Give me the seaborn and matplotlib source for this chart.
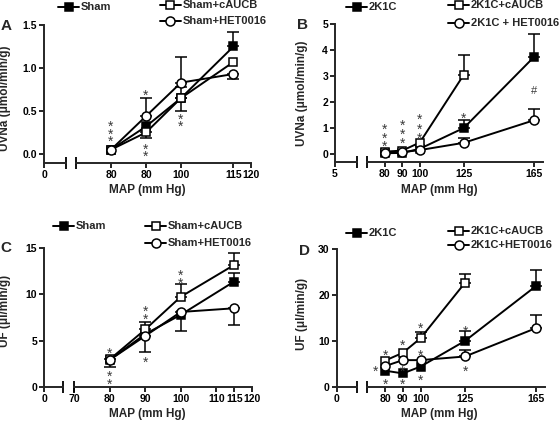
import matplotlib
matplotlib.use("Agg")
import matplotlib.pyplot as plt
import matplotlib.transforms as mtransforms
from matplotlib.lines import Line2D
import numpy as np
import seaborn as sns

# ---- panel A: UVNa, sham groups ----
a_map = [80, 90, 100, 115]
a_sham = [0.05, 0.32, 0.65, 1.25]
a_sham_up = [0, 0, 0.13, 0.17]
a_sham_dn = [0, 0, 0, 0]
a_cauc = [0.05, 0.25, 0.65, 1.07]
a_cauc_up = [0, 0, 0, 0]
a_cauc_dn = [0, 0.07, 0.15, 0]
a_het = [0.05, 0.44, 0.83, 0.93]
a_het_up = [0, 0.21, 0.30, 0]
a_het_dn = [0, 0, 0, 0.06]
a_xticks = [80, 90, 100, 115, 120]
a_xlabels = ["80", "80", "100", "115", "120"]
a_yticks = [0, 0.5, 1.0, 1.5]
a_ylabels = ["0.0", "0.5", "1.0", "1.5"]
a_names = ["Sham", "Sham+cAUCB", "Sham+HET0016"]

# ---- panel B: UVNa, 2K1C groups ----
b_map = [80, 90, 100, 125, 165]
b_map_cauc = [80, 90, 100, 125]
b_2k1c = [0.03, 0.04, 0.2, 1.0, 3.74]
b_2k1c_up = [0, 0, 0, 0.3, 0.88]
b_2k1c_dn = [0, 0, 0, 0, 0]
b_cauc = [0.09, 0.13, 0.44, 3.05]
b_cauc_up = [0, 0, 0, 0.75]
b_cauc_dn = [0, 0, 0, 0]
b_het = [0.05, 0.07, 0.15, 0.43, 1.3]
b_het_up = [0, 0, 0, 0.17, 0.42]
b_het_dn = [0, 0, 0, 0, 0]
b_xticks = [80, 90, 100, 125, 165]
b_xlabels = ["80", "90", "100", "125", "165"]
b_yticks = [0, 1, 2, 3, 4, 5]
b_ylabels = ["0", "1", "2", "3", "4", "5"]
b_names = ["2K1C", "2K1C+cAUCB", "2K1C + HET0016"]

# ---- panel C: UF, sham groups ----
c_map = [80, 90, 100, 115]
c_sham = [2.9, 5.7, 7.8, 11.4]
c_sham_up = [0, 0, 0, 0.9]
c_sham_dn = [0, 0, 0, 0]
c_cauc = [2.95, 6.2, 9.75, 13.2]
c_cauc_up = [0, 0.85, 1.35, 1.3]
c_cauc_dn = [0.8, 0, 0, 0]
c_het = [2.9, 5.5, 8.1, 8.5]
c_het_up = [0, 0, 0, 0]
c_het_dn = [0, 1.7, 2.1, 1.8]
c_xticks = [70, 80, 90, 100, 110, 115, 120]
c_xlabels = ["70", "80", "90", "100", "110", "115", "120"]
c_yticks = [0, 5, 10, 15]
c_ylabels = ["0", "5", "10", "15"]
c_names = ["Sham", "Sham+cAUCB", "Sham+HET0016"]

# ---- panel D: UF, 2K1C groups ----
d_map = [80, 90, 100, 125, 165]
d_map_cauc = [80, 90, 100, 125]
d_2k1c = [3.5, 2.9, 4.4, 10.0, 22.0]
d_2k1c_up = [0, 0, 0, 2.2, 3.5]
d_2k1c_dn = [0, 0, 0, 0, 0]
d_cauc = [5.7, 7.4, 10.6, 22.7]
d_cauc_up = [0, 0, 1.4, 1.8]
d_cauc_dn = [0, 0, 0, 0]
d_het = [4.5, 5.8, 5.8, 6.6, 12.8]
d_het_up = [0, 0, 0, 1.4, 2.9]
d_het_dn = [0, 0, 0, 0, 0]
d_xticks = [80, 90, 100, 125, 165]
d_xlabels = ["80", "90", "100", "125", "165"]
d_yticks = [0, 10, 20, 30]
d_ylabels = ["0", "10", "20", "30"]
d_names = ["2K1C", "2K1C+cAUCB", "2K1C+HET0016"]

sns.set_style("ticks")
plt.rcParams["font.family"] = ["Liberation Sans", "DejaVu Sans"]
plt.rcParams["font.weight"] = "bold"

W, H = 560, 421
fig = plt.figure(figsize=(W / 100, H / 100), dpi=100)

STYLES = [
    dict(marker="s", markerfacecolor="black", markersize=6),
    dict(marker="s", markerfacecolor="white", markersize=6),
    dict(marker="o", markerfacecolor="white", markersize=6.5),
]
LW = 1.4


def rect(x0, x1, y0, y1):
    return [x0 / W, 1 - y1 / H, (x1 - x0) / W, (y1 - y0) / H]


def fx(x):
    return x / W


def fy(y):
    return 1 - y / H


def draw_series(ax, x, y, up, dn, style, z):
    sns.lineplot(x=x, y=y, ax=ax, color="black", linewidth=LW, errorbar=None,
                 markeredgecolor="black", markeredgewidth=1.1, zorder=z,
                 clip_on=False, **style)
    x = np.asarray(x)
    y = np.asarray(y)
    up = np.asarray(up)
    dn = np.asarray(dn)
    for err, sign in ((up, 1), (dn, -1)):
        m = err > 0
        if m.any():
            yerr = [np.zeros(m.sum()), err[m]] if sign > 0 else [err[m], np.zeros(m.sum())]
            ax.errorbar(x[m], y[m], yerr=yerr, fmt="none", ecolor="black",
                        elinewidth=1.1, capsize=4, capthick=1.1, zorder=1.5,
                        clip_on=False)


def star(ax, x, y, s="*"):
    tr = mtransforms.offset_copy(ax.transData, fig=fig, y=-2.5, units="points")
    ax.text(x, y, s, ha="center", va="center", fontsize=10, color="#3a3a3a",
            fontweight="normal", transform=tr, clip_on=False)


def panel(px, ylim, yticks, ylabels, xlim, xticks, xlabels, zero_label, series):
    left, brk, r0, r1, top, bot = px
    axl = fig.add_axes(rect(left, brk, top, bot))
    axr = fig.add_axes(rect(r0, r1, top, bot), sharey=axl)
    for ax in (axl, axr):
        sns.despine(ax=ax)
        ax.spines["left"].set_linewidth(LW)
        ax.spines["bottom"].set_linewidth(LW)
        ax.tick_params(width=1.2, length=3.5, labelsize=7.5, pad=1.5, colors="black")
        ax.patch.set_alpha(0)
    axl.set_ylim(*ylim)
    axl.set_yticks(yticks)
    axl.set_yticklabels(ylabels)
    axl.set_xlim(0, 1)
    axl.set_xticks([0])
    axl.set_xticklabels([zero_label])
    axr.spines["left"].set_visible(False)
    axr.tick_params(axis="y", left=False, labelleft=False)
    axr.set_xlim(*xlim)
    axr.set_xticks(xticks)
    axr.set_xticklabels(xlabels)
    # break marks on the x axis
    axl.plot([1], [0], transform=axl.transAxes, marker="|", markersize=8,
             markeredgewidth=1.3, color="black", clip_on=False)
    axr.plot([0], [0], transform=axr.transAxes, marker="|", markersize=8,
             markeredgewidth=1.3, color="black", clip_on=False)
    for i, (x, y, up, dn) in enumerate(series):
        draw_series(axr, x, y, up, dn, STYLES[i], 3 + i)
    for ax in (axl, axr):
        ax.set_xlabel("")
        ax.set_ylabel("")
    return axr


def legend_entry(x0, y, style, label):
    ln = Line2D([fx(x0), fx(x0 + 10.5), fx(x0 + 21)], [fy(y)] * 3,
                transform=fig.transFigure, color="black", linewidth=LW,
                markeredgecolor="black", markeredgewidth=1.1, markevery=[1],
                **style)
    fig.add_artist(ln)
    fig.text(fx(x0 + 23), fy(y), label, ha="left", va="center", fontsize=8)


# ---------- A ----------
axA = panel((44, 66, 76, 251, 25, 163), (-0.105, 1.5), a_yticks, a_ylabels,
            (70, 120), a_xticks, a_xlabels, "0",
            [(a_map, a_sham, a_sham_up, a_sham_dn),
             (a_map, a_cauc, a_cauc_up, a_cauc_dn),
             (a_map, a_het, a_het_up, a_het_dn)])
for yy in (0.357, 0.267, 0.183):
    star(axA, 80, yy)
for yy in (0.713, 0.093, 0.008):
    star(axA, 90, yy)
for yy in (0.434, 0.357):
    star(axA, 100, yy)

# ---------- B ----------
axB = panel((335, 357, 367, 543, 24, 162.3), (-0.32, 5), b_yticks, b_ylabels,
            (70, 170), b_xticks, b_xlabels, "5",
            [(b_map, b_2k1c, b_2k1c_up, b_2k1c_dn),
             (b_map_cauc, b_cauc, b_cauc_up, b_cauc_dn),
             (b_map, b_het, b_het_up, b_het_dn)])
for yy in (1.05, 0.73, 0.41):
    star(axB, 80, yy)
for yy in (1.20, 0.86, 0.54):
    star(axB, 90, yy)
for yy in (1.43, 1.05, 0.73):
    star(axB, 100, yy)
star(axB, 125, 1.5)
axB.text(165, 2.43, "#", ha="center", va="center", fontsize=8, color="#3a3a3a",
         fontweight="normal")

# ---------- C ----------
axC = panel((44, 63, 74, 252, 248.3, 386.7), (0, 15), c_yticks, c_ylabels,
            (70, 120), c_xticks, c_xlabels, "0",
            [(c_map, c_sham, c_sham_up, c_sham_dn),
             (c_map, c_cauc, c_cauc_up, c_cauc_dn),
             (c_map, c_het, c_het_up, c_het_dn)])
for yy in (3.98, 1.45, 0.54):
    star(axC, 80, yy)
for yy in (8.5, 7.67, 3.0):
    star(axC, 90, yy)
for yy in (12.4, 11.57):
    star(axC, 100, yy)

# ---------- D ----------
axD = panel((336.7, 357.3, 367.3, 545, 249.3, 386.7), (0, 30), d_yticks, d_ylabels,
            (70, 170), d_xticks, d_xlabels, "0",
            [(d_map, d_2k1c, d_2k1c_up, d_2k1c_dn),
             (d_map_cauc, d_cauc, d_cauc_up, d_cauc_dn),
             (d_map, d_het, d_het_up, d_het_dn)])
for yy in (7.42, 1.09):
    star(axD, 80, yy)
star(axD, 74.9, 4.0)
for yy in (9.8, 4.0, 1.09):
    star(axD, 90, yy)
for yy in (13.5, 7.6, 2.05):
    star(axD, 100, yy)
for yy in (12.75, 4.0):
    star(axD, 125, yy)

# ---------- labels ----------
for x, y in ((147.5, 189.5), (439, 189.5), (147.5, 414), (439, 414)):
    fig.text(fx(x), fy(y), "MAP (mm Hg)", ha="center", va="center", fontsize=8.5)
fig.text(fx(5), fy(98), "UVNa (μmol/min/g)", rotation=90, ha="center", va="center", fontsize=8.5)
fig.text(fx(302.5), fy(93), "UVNa (μmol/min/g)", rotation=90, ha="center", va="center", fontsize=8.5)
fig.text(fx(5), fy(310.5), "UF (μl/min/g)", rotation=90, ha="center", va="center", fontsize=8.5)
fig.text(fx(302.5), fy(314), "UF (μl/min/g)", rotation=90, ha="center", va="center", fontsize=8.5)

for x, y, s in ((6.5, 25.5, "A"), (302.5, 25, "B"), (6, 248, "C"), (305, 251, "D")):
    fig.text(fx(x), fy(y), s, ha="center", va="center", fontsize=11, fontweight="bold")

# ---------- legends ----------
for (x0, y), i in (((58, 7), 0), ((160, 5), 1), ((160, 21), 2)):
    legend_entry(x0, y, STYLES[i], a_names[i])
for (x0, y), i in (((346, 7), 0), ((448, 5), 1), ((448, 23), 2)):
    legend_entry(x0, y, STYLES[i], b_names[i])
for (x0, y), i in (((53, 226), 0), ((145, 226), 1), ((145, 243), 2)):
    legend_entry(x0, y, STYLES[i], c_names[i])
for (x0, y), i in (((346, 233), 0), ((448, 231), 1), ((448, 244.5), 2)):
    legend_entry(x0, y, STYLES[i], d_names[i])

fig.savefig("out.png", dpi=100)
